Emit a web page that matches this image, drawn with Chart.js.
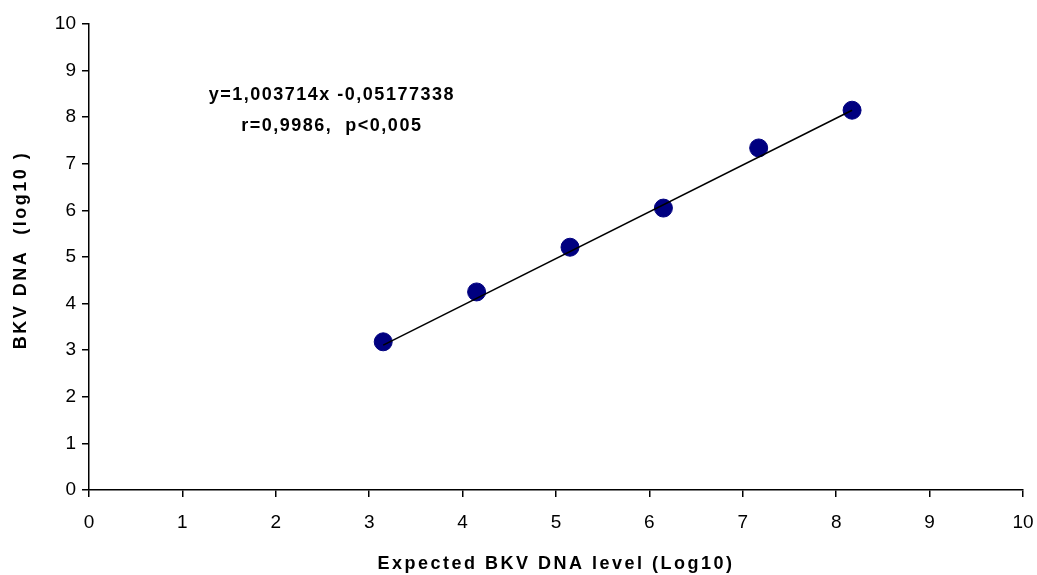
<!DOCTYPE html>
<html>
<head>
    <title>bkv-dna</title>
    <meta charset="utf-8">
    <script src="https://cdn.jsdelivr.net/npm/chart.js"></script>
    <style>
        body { margin: 0; background: #fff; }
    </style>
</head>
<body>
    <div style="width:1037px;height:575px">
        <canvas id="chart"></canvas>
    </div>
    <script>
        const expected = [3.15, 4.15, 5.15, 6.15, 7.17, 8.17];
        const measured = [3.18, 4.25, 5.21, 6.05, 7.34, 8.15];
        const fitX = [3.15, 8.17];
        const fitY = [3.11, 8.15];
        const tickValues = [0, 1, 2, 3, 4, 5, 6, 7, 8, 9, 10];
        const equationLines = ['y=1,003714x -0,05177338', 'r=0,9986,  p<0,005'];
        const xTitle = 'Expected BKV DNA level (Log10)';
        const yTitle = 'BKV DNA  (log10 )';

        const fontFamily = '"Liberation Sans", Arial, sans-serif';

        const textPlugin = {
            id: 'texts',
            afterDraw(chart) {
                const ctx = chart.ctx;
                const area = chart.chartArea;
                ctx.save();
                ctx.fillStyle = '#000';
                ctx.font = 'bold 18px ' + fontFamily;
                ctx.textAlign = 'center';
                ctx.textBaseline = 'middle';
                ctx.letterSpacing = '1.5px';
                // equation text
                const cx = chart.scales.x.getPixelForValue(2.6);
                ctx.fillText(equationLines[0], cx, chart.scales.y.getPixelForValue(8.48));
                ctx.fillText(equationLines[1], cx, chart.scales.y.getPixelForValue(7.8));
                // axis titles
                ctx.letterSpacing = '2.5px';
                ctx.fillText(xTitle, (area.left + area.right) / 2, 564);
                ctx.translate(21, 250);
                ctx.rotate(-Math.PI / 2);
                ctx.fillText(yTitle, 0, 0);
                ctx.restore();
            }
        };

        new Chart(document.getElementById('chart'), {
            type: 'scatter',
            data: {
                datasets: [{
                    type: 'line',
                    data: fitX.map((x, i) => ({ x: x, y: fitY[i] })),
                    borderColor: '#000',
                    borderWidth: 1.5,
                    pointRadius: 0,
                    fill: false
                }, {
                    data: expected.map((x, i) => ({ x: x, y: measured[i] })),
                    backgroundColor: '#000080',
                    borderColor: '#000080',
                    pointRadius: 9,
                    pointHoverRadius: 9
                }]
            },
            options: {
                responsive: true,
                maintainAspectRatio: false,
                animation: false,
                layout: { padding: { top: 24, right: 14, left: 0, bottom: 0 } },
                plugins: {
                    legend: { display: false },
                    tooltip: { enabled: false }
                },
                scales: {
                    x: {
                        type: 'linear',
                        min: 0,
                        max: 10,
                        afterBuildTicks: s => { s.ticks = tickValues.map(v => ({ value: v })); },
                        afterFit: s => { s.height = 85; s.paddingLeft = 0; s.paddingRight = 0; },
                        border: { color: '#000', width: 1.5 },
                        grid: { drawOnChartArea: false, color: '#000', tickLength: 7, lineWidth: 1.5 },
                        ticks: { color: '#000', font: { size: 19, family: fontFamily }, padding: 14 }
                    },
                    y: {
                        type: 'linear',
                        min: 0,
                        max: 10,
                        afterBuildTicks: s => { s.ticks = tickValues.map(v => ({ value: v })); },
                        afterFit: s => { s.width = 89; s.paddingTop = 0; s.paddingBottom = 0; },
                        border: { color: '#000', width: 1.5 },
                        grid: { drawOnChartArea: false, color: '#000', tickLength: 7, lineWidth: 1.5 },
                        ticks: { color: '#000', font: { size: 19, family: fontFamily }, padding: 6 }
                    }
                }
            },
            plugins: [textPlugin]
        });
    </script>
</body>
</html>
